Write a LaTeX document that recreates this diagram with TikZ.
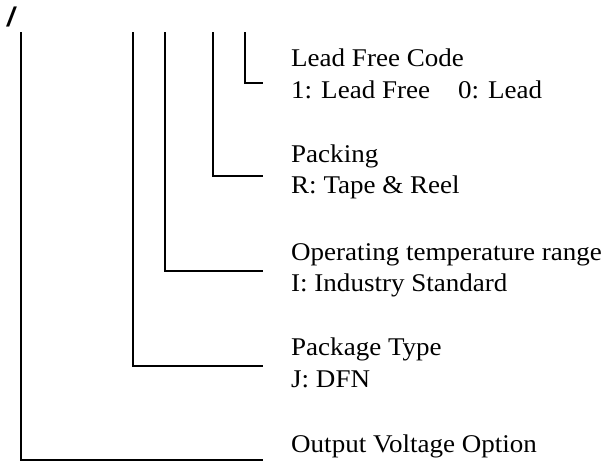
\documentclass[tikz,border=0pt]{standalone}
\usepackage{fontspec}
\setmainfont[FakeStretch=1.06]{Liberation Serif}
\newfontfamily\slashfont{Liberation Sans}
\begin{document}
\begin{tikzpicture}[x=1pt,y=-1pt,
  lbl/.style={anchor=base west,inner sep=0pt,font=\fontsize{25.5}{32}\selectfont},
  lead/.style={line width=1.6pt,line cap=rect}]
\useasboundingbox (0,0) rectangle (615,462);
\node[inner sep=0pt,anchor=base west,font=\slashfont\fontsize{27}{27}\selectfont\bfseries\itshape] (sl) at (7,27) {/};
% tops of leads
\coordinate (t1) at (21,33);
\coordinate (t2) at (133,33);
\coordinate (t3) at (165,33);
\coordinate (t4) at (213,33);
\coordinate (t5) at (245,33);
% ends
\coordinate (e1) at (262,460);
\coordinate (e2) at (262,366);
\coordinate (e3) at (262,271);
\coordinate (e4) at (262,176);
\coordinate (e5) at (262,83);
\draw[lead] (t1) |- (e1);
\draw[lead] (t2) |- (e2);
\draw[lead] (t3) |- (e3);
\draw[lead] (t4) |- (e4);
\draw[lead] (t5) |- (e5);
% labels
\node[lbl] (a1) at (291,67) {Lead Free Code};
\node[lbl] (a2) at (291,99) {1: Lead Free\hspace{1.1em}0: Lead};
\node[lbl] (b1) at (291,163) {Packing};
\node[lbl] (b2) at (291,194) {R: Tape \& Reel};
\node[lbl] (c1) at (291,260) {Operating temperature range};
\node[lbl] (c2) at (291,291) {I: Industry Standard};
\node[lbl] (d1) at (291,355) {Package Type};
\node[lbl] (d2) at (291,387) {J: DFN};
\node[lbl] (f1) at (291,452) {Output Voltage Option};
\end{tikzpicture}
\end{document}
